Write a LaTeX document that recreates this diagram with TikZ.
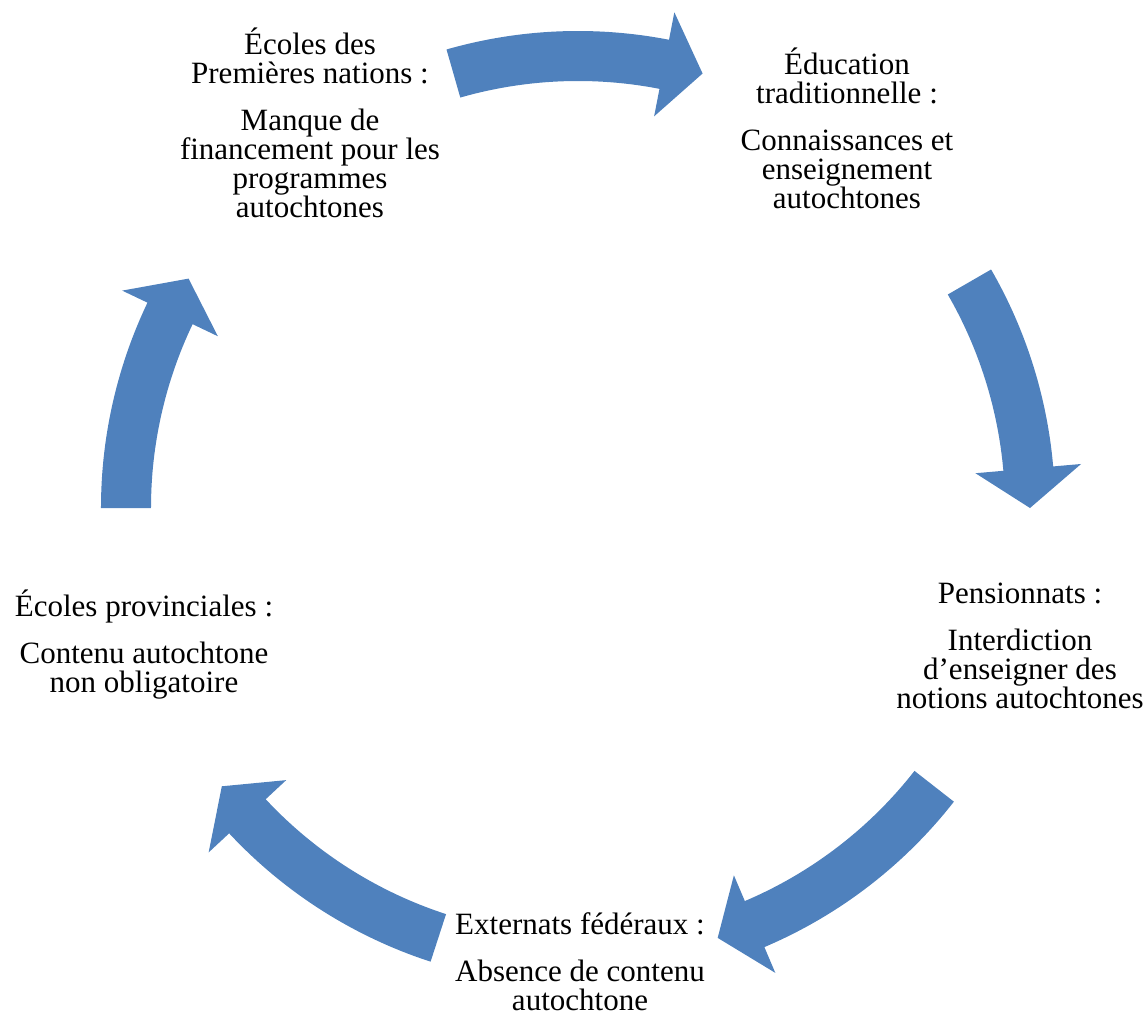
\documentclass[tikz,border=0pt]{standalone}
\usepackage{fontspec}
\setmainfont{Liberation Serif}
\usetikzlibrary{positioning}
\definecolor{cycleblue}{HTML}{4F81BD}
% curved block arrow on the cycle: tail angle, tip angle
\newcommand{\cyclearrow}[2]{%
  \fill[cycleblue] (#1:238.5pt) arc[start angle=#1, end angle={#2+5}, radius=238.5pt]
    -- ({#2+5}:252.5pt) -- (#2:226pt) -- ({#2+5}:199.5pt) -- ({#2+5}:213.5pt)
    arc[start angle={#2+5}, end angle=#1, radius=213.5pt] -- cycle;}

\begin{document}
\begin{tikzpicture}[x=0.5pt,y=0.5pt,
  stage/.style={align=center,inner sep=0pt,anchor=base,font=\fontsize{15.5}{14.5}\selectfont}]
  \useasboundingbox (-578,-506) rectangle (568,508);
  \node[stage] (1) at (-268,291) {Écoles des\\Premières nations :\\[9pt]Manque de\\financement pour les\\programmes\\autochtones};
  \node[stage] (2) at (269,300)  {Éducation\\traditionnelle :\\[9pt]Connaissances et\\enseignement\\autochtones};
  \node[stage] (3) at (442,-200) {Pensionnats :\\[9pt]Interdiction\\d'enseigner des\\notions autochtones};
  \node[stage] (4) at (2,-502)   {Externats fédéraux :\\[9pt]Absence de contenu\\autochtone};
  \node[stage] (5) at (-434,-184) {Écoles provinciales :\\[9pt]Contenu autochtone\\non obligatoire};
  \foreach \from/\to in {106/74, 30/0, -38/-72, -108/-142, 180/149.5}
    \cyclearrow{\from}{\to};
\end{tikzpicture}
\end{document}
